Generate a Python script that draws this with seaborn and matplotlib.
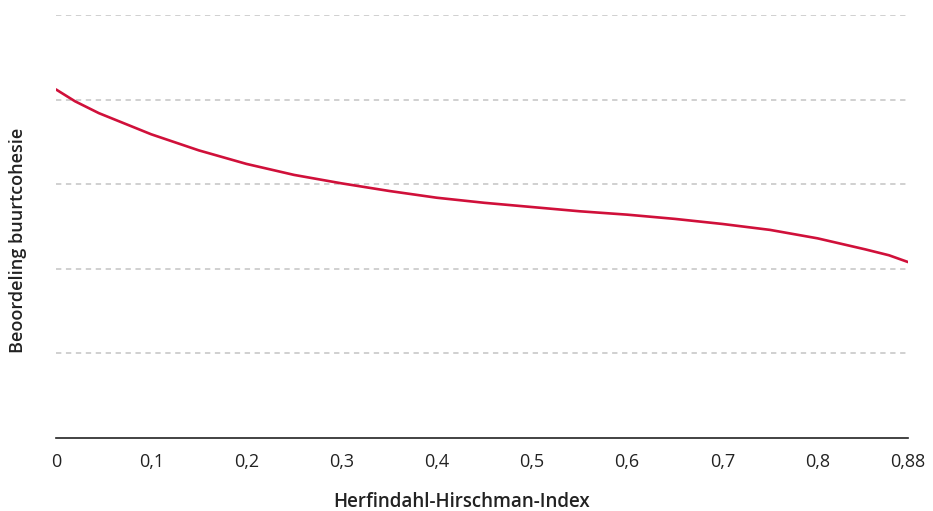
import pandas as pd
import matplotlib
matplotlib.use("Agg")
import matplotlib.pyplot as plt
import seaborn as sns

# Values (y axis has no labels, grid steps of 1)
hhi = [0, 0.02, 0.045, 0.1, 0.15, 0.2, 0.25, 0.3, 0.35, 0.4, 0.45, 0.5,
       0.55, 0.6, 0.65, 0.7, 0.75, 0.8, 0.85, 0.875, 0.895]
cohesie = [4.12, 3.98, 3.84, 3.59, 3.40, 3.24, 3.11, 3.01, 2.92, 2.84, 2.78, 2.73,
           2.68, 2.64, 2.59, 2.53, 2.46, 2.36, 2.23, 2.16, 2.08]
x_ticks = [0, 0.1, 0.2, 0.3, 0.4, 0.5, 0.6, 0.7, 0.8, 0.895]
x_tick_labels = ["0", "0,1", "0,2", "0,3", "0,4", "0,5", "0,6", "0,7", "0,8", "0,88"]
grid_levels = [1, 2, 3, 4, 5]

df = pd.DataFrame({"hhi": hhi, "cohesie": cohesie})

sns.set_style("white")
plt.rcParams["font.family"] = ["Open Sans", "DejaVu Sans"]

fig = plt.figure(figsize=(9.33, 5.11), dpi=100)
ax = fig.add_axes([56 / 933, 73 / 511, 852 / 933, 423 / 511])

# dashed grey guide lines
for g in grid_levels:
    ax.axhline(g, color="#c4c4c4", linestyle=(0, (3.5, 3)), linewidth=1.1, zorder=0)

sns.lineplot(data=df, x="hhi", y="cohesie", color="#d0103a", linewidth=1.9, ax=ax)

ax.set_xlim(0, 0.895)
ax.set_ylim(0, 5)
ax.set_xticks(x_ticks)
ax.set_xticklabels(x_tick_labels, fontsize=13, color="#222222")
ax.set_yticks([])
ax.tick_params(axis="x", length=0, pad=11)
ax.set_xlabel("")
ax.set_ylabel("")

for side in ["top", "right", "left"]:
    ax.spines[side].set_visible(False)
ax.spines["bottom"].set_color("#222222")
ax.spines["bottom"].set_linewidth(1.2)

fig.text(462 / 933, 1 - 502 / 511, "Herfindahl-Hirschman-Index", fontsize=13.5,
         fontweight="semibold", color="#222222", ha="center", va="center")
fig.text(18 / 933, 1 - 240 / 511, "Beoordeling buurtcohesie", fontsize=13,
         fontweight="semibold", color="#222222", ha="center", va="center", rotation=90)

plt.savefig("out.png", dpi=100)
